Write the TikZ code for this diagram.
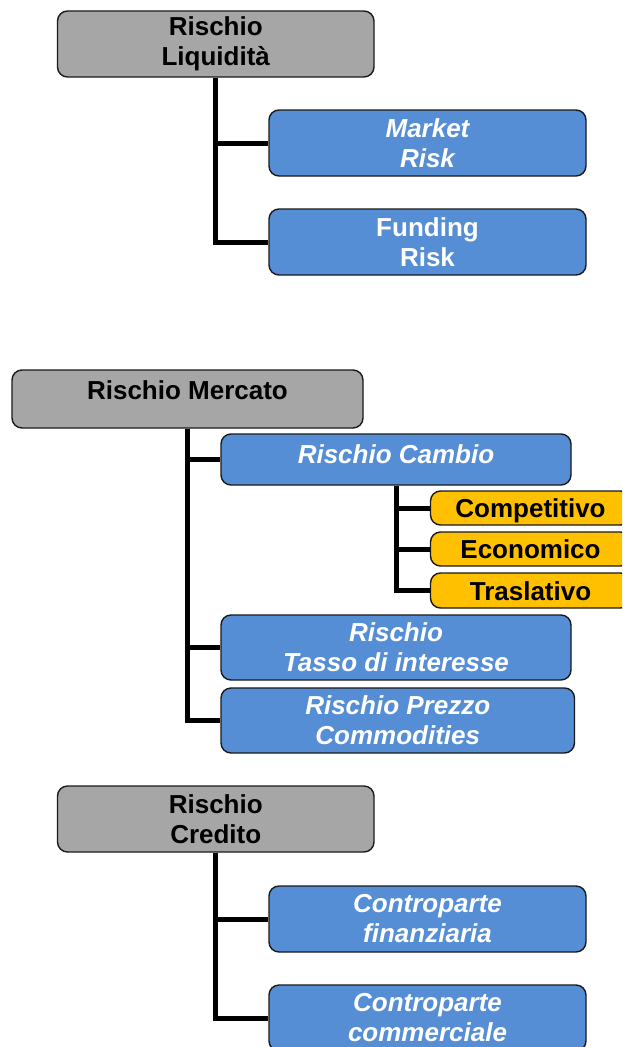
\documentclass[tikz,border=0pt]{standalone}
\usepackage{fontspec}
\setmainfont{Liberation Sans}
\definecolor{boxgray}{HTML}{A6A6A6}
\definecolor{boxblue}{HTML}{558ED5}
\definecolor{boxorange}{HTML}{FFC000}
\definecolor{edge}{HTML}{1A1A1A}
\tikzset{
  box/.style={draw=edge, line width=1.4pt, rounded corners=10pt, inner sep=0pt, align=center,
    font=\fontsize{26}{30}\selectfont\bfseries},
  ital/.style={font=\fontsize{26}{30}\selectfont\bfseries\itshape},
  graybox/.style={box, fill=boxgray, text=black},
  bluebox/.style={box, fill=boxblue, text=white},
  orangebox/.style={box, fill=boxorange, text=black},
  conn/.style={line width=5pt, black},
  oneline/.style={text height=19pt, text depth=#1}
}
\begin{document}
\begin{tikzpicture}[x=1pt, y=-1pt]
\useasboundingbox (0,0) rectangle (622,1047);
\clip (0,0) rectangle (622,1047);
\fill[white] (0,0) rectangle (622,1047);

% --- Rischio Liquidita
\node[graybox, minimum width=316.5pt, minimum height=66pt] (liq) at (215.75,44) {Rischio\\Liquidità};
\node[bluebox, ital, minimum width=317pt, minimum height=66pt] (mkt) at (427.5,143) {Market\\Risk};
\node[bluebox, minimum width=317pt, minimum height=66pt] (fund) at (427.5,242) {Funding\\Risk};
\draw[conn] (liq.south) |- (mkt.west);
\draw[conn] (liq.south) |- (fund.west);

% --- Rischio Mercato
\node[graybox, oneline=19pt, minimum width=351pt, minimum height=58pt] (merc) at (187.5,399) {Rischio Mercato};
\node[bluebox, ital, oneline=11pt, minimum width=350pt, minimum height=51pt] (camb) at (396,459.5) {Rischio Cambio};
\node[orangebox, oneline=0pt, minimum width=200pt, minimum height=34pt] (comp) at (530.5,508) {Competitivo};
\node[orangebox, oneline=0pt, minimum width=200pt, minimum height=34pt] (econ) at (530.5,549) {Economico};
\node[orangebox, oneline=0pt, minimum width=200pt, minimum height=35pt] (tras) at (530.5,590.5) {Traslativo};
\node[bluebox, ital, minimum width=350pt, minimum height=65pt] (tasso) at (396,647.5) {Rischio\\Tasso di interesse};
\node[bluebox, ital, minimum width=353.5pt, minimum height=65pt] (comm) at (397.75,720.5) {Rischio Prezzo\\Commodities};
\draw[conn] (merc.south) |- (camb.west);
\draw[conn] (merc.south) |- (tasso.west);
\draw[conn] (merc.south) |- (comm.west);
\draw[conn] (camb.south) |- (comp.west);
\draw[conn] (camb.south) |- (econ.west);
\draw[conn] (camb.south) |- (tras.west);

% --- Rischio Credito
\node[graybox, minimum width=316.5pt, minimum height=66pt] (cred) at (215.75,819) {Rischio\\Credito};
\node[bluebox, ital, minimum width=317pt, minimum height=66pt] (fin) at (427.5,919) {Controparte\\finanziaria};
\node[bluebox, ital, minimum width=317pt, minimum height=66pt] (comc) at (427.5,1018) {Controparte\\commerciale};
\draw[conn] (cred.south) |- (fin.west);
\draw[conn] (cred.south) |- (comc.west);
\end{tikzpicture}
\end{document}
